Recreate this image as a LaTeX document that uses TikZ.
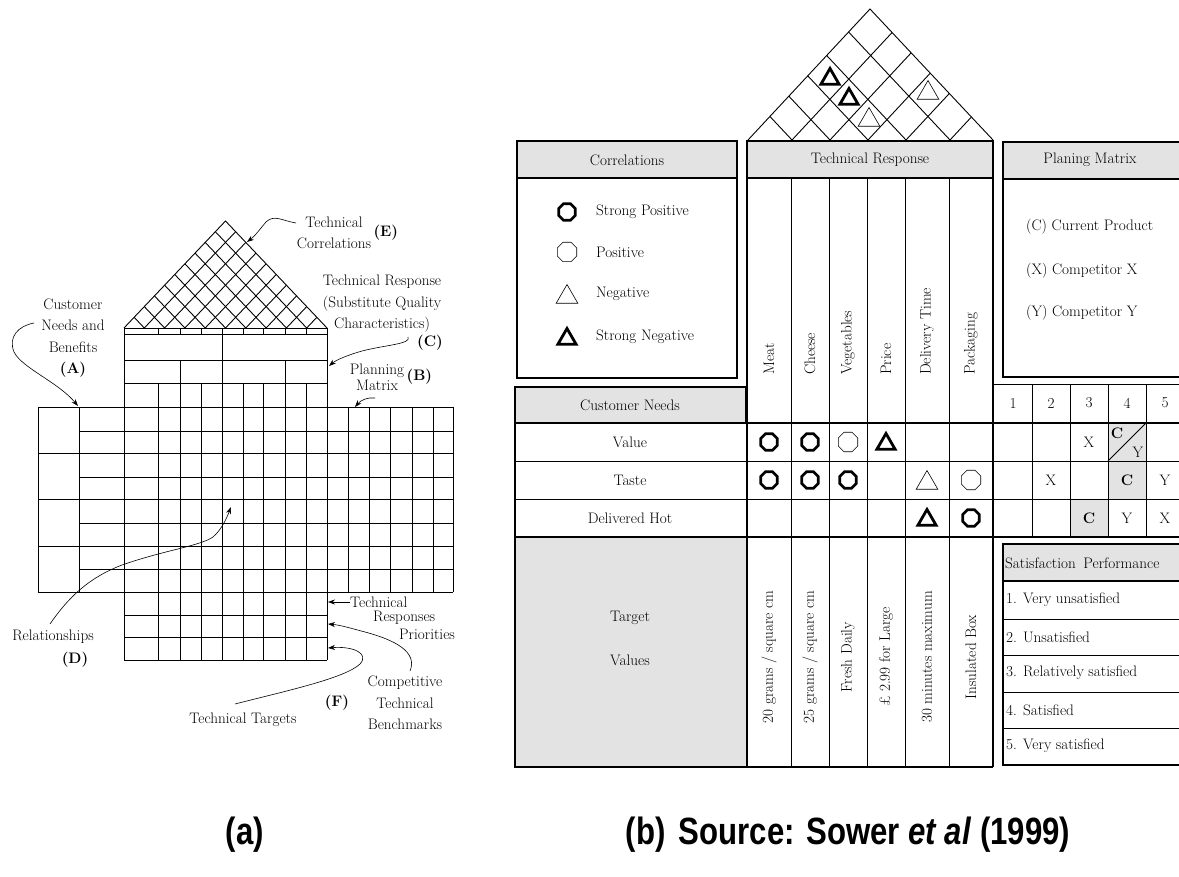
\documentclass[tikz,border=0pt]{standalone}
\usepackage{fontspec}
\newfontfamily\capfont[FakeStretch=0.82]{Liberation Sans}
\usetikzlibrary{arrows.meta,positioning,shapes.geometric}

\begin{document}
\begin{tikzpicture}[x=1pt,y=-1pt,font=\fontsize{15.2}{21.5}\selectfont,
  ln/.style={line width=0.9pt},
  bx/.style={line width=1.3pt},
  tk/.style={line width=2.6pt},
  hd/.style={fill=black!11},
  arr/.style={line width=0.6pt,-{Stealth[length=7pt,width=5pt]}},
  lbl/.style={align=center,inner sep=1pt},
  tag/.style={font=\fontsize{15.2}{21.5}\selectfont\bfseries,inner sep=1pt},
  vlab/.style={rotate=90,inner sep=0pt},
  cspos/.style={regular polygon,regular polygon sides=8,draw,line width=2.8pt,minimum size=18pt,inner sep=0pt},
  cpos/.style={regular polygon,regular polygon sides=8,draw,line width=0.6pt,minimum size=21pt,inner sep=0pt},
  cneg/.style={regular polygon,regular polygon sides=3,draw,line width=0.6pt,minimum size=25pt,inner sep=0pt,yshift=-3pt},
  csneg/.style={regular polygon,regular polygon sides=3,draw,line width=2.8pt,minimum size=21pt,inner sep=0pt,yshift=-2pt}]
  \path[use as bounding box,clip] (0,0) rectangle (1179,877);

  \begin{scope}
    \clip (124,328) -- (225.5,221) -- (327,328) -- cycle;
    \foreach \k in {1,...,9}
      \draw[ln] ({124+20.3*\k},328) -- ++(203,-214) ({124+20.3*\k},328) -- ++(-203,-214);
  \end{scope}
  \draw[ln] (124,328) -- (225.5,221) -- (327,328);
  \foreach \y in {328,334,360,383} \draw[ln] (124,\y) -- (327,\y);
  \foreach \y in {407,453,499,546,592} \draw[ln] (38,\y) -- (453,\y);
  \foreach \y in {431,477,523,569} \draw[ln] (79,\y) -- (453,\y);
  \foreach \y in {615,637,660} \draw[ln] (124,\y) -- (327,\y);
  \foreach \x in {158,180,201,222,243,263,285,306}
    \draw[ln] (\x,328) -- (\x,334) (\x,383) -- (\x,660);
  \draw[ln] (222,334) -- (222,383) (180,360) -- (180,383) (285,360) -- (285,383);
  \draw[ln] (124,328) -- (124,660) (327,328) -- (327,660);
  \foreach \x in {38,79,348,369,390,412,433,453} \draw[ln] (\x,407) -- (\x,592);

  \node[lbl] (tcor) at (334,233) {Technical\\Correlations};
  \node[tag,right=0pt of tcor] (tagE) {(E)};
  \coordinate (eS) at (296,223);
  \coordinate (eT) at (247,242);
  \draw[arr] (eS) .. controls (283,221) and (274,214) .. (266,222) .. controls (260,229) and (255,236) .. (eT);
  \node[lbl] (tresp) at (382,304) {Technical Response\\(Substitute Quality\\Characteristics)};
  \node[tag] (tagC) at (430,343) {(C)};
  \coordinate (cS) at (408,337);
  \coordinate (cT) at (329,366);
  \draw[arr] (cS) .. controls (412,344) and (385,345) .. (362,351) .. controls (348,355) and (336,360) .. (cT);
  \node[lbl,font=\fontsize{15.2}{16}\selectfont] (pmat) at (377,377) {Planning\\Matrix};
  \node[tag,right=0pt of pmat] (tagB) {(B)};
  \coordinate (bS) at (375,398);
  \coordinate (bT) at (355,407);
  \draw[arr] (bS) .. controls (368,397) and (361,400) .. (bT);
  \node[lbl] (cneed) at (73,338) {Customer\\Needs and\\Benefits\\\textbf{(A)}};
  \coordinate (aS) at (34,323);
  \coordinate (aT) at (78,406);
  \draw[arr] (aS) .. controls (18,326) and (8,337) .. (14,352) .. controls (22,368) and (58,382) .. (aT);
  \node[lbl] (rel) at (53,637) {Relationships};
  \node[tag] (tagD) at (75,660) {(D)};
  \coordinate (dS) at (50,624);
  \coordinate (dT) at (231,507);
  \draw[arr] (dS) .. controls (68,598) and (88,578) .. (122,565) .. controls (165,550) and (200,546) .. (213,537) .. controls (221,530) and (226,520) .. (dT);
  \node[anchor=west,inner sep=0pt] (tpri1) at (350,602) {Technical};
  \node[anchor=west,inner sep=0pt] (tpri2) at (373,618) {Responses};
  \node[anchor=west,inner sep=0pt] (tpri3) at (399,634) {Priorities};
  \coordinate (pT) at (328,602);
  \draw[arr] (tpri1.west) -- (pT);
  \node[lbl] (bench) at (405,703) {Competitive\\Technical\\Benchmarks};
  \node[tag] (tagF) at (337,703) {(F)};
  \coordinate (fS) at (410,671);
  \coordinate (fT) at (328,624);
  \draw[arr] (fS) .. controls (418,652) and (395,640) .. (365,632) .. controls (350,628) and (340,625) .. (fT);
  \node[lbl] (ttar) at (243,720) {Technical Targets};
  \coordinate (tS) at (235,704);
  \coordinate (tT) at (328,648);
  \draw[arr] (tS) .. controls (290,690) and (345,678) .. (360,664) .. controls (370,653) and (352,646) .. (tT);

  \begin{scope}
    \clip (748,140) -- (870,9) -- (993,140) -- cycle;
    \foreach \x in {792,830,868,906,950}
      \draw[ln] (\x,140) -- ++(244,-262) (\x,140) -- ++(-246,-262);
  \end{scope}
  \draw[ln] (748,140) -- (870,9) -- (993,140);
  \node[csneg] (rf1) at (830,77) {};
  \node[csneg] (rf2) at (849,97) {};
  \node[cneg] (rf3) at (869,117) {};
  \node[cneg] (rf4) at (928,90) {};

  \draw[bx,hd] (517,141) rectangle (737,178);
  \draw[bx] (517,178) rectangle (737,378);
  \node (corr) at (627,160) {Correlations};
  \node[cspos] (lg1) at (567,212) {};
  \node[cpos] (lg2) at (567,252) {};
  \node[cneg] (lg3) at (567,294) {};
  \node[csneg] (lg4) at (567,337) {};
  \foreach \t/\y [count=\i] in {Strong Positive/212,Positive/252,Negative/294,Strong Negative/337}
    \node[anchor=west,inner sep=0pt] (lgt\i) at (596,\y) {\t};

  \draw[bx,hd] (747,141) rectangle (993,178);
  \node (trh) at (870,160) {Technical Response};
  \foreach \x in {791,829,867,905,949} \draw[ln] (\x,178) -- (\x,767);
  \foreach \t/\x [count=\i] in {Meat/769,Cheese/810,Vegetables/848,Price/886,Delivery Time/927,Packaging/971}
    \node[vlab,anchor=west] (col\i) at (\x,375) {\t};

  \draw[bx,hd] (515,387) rectangle (746,423);
  \node (cnh) at (630,405) {Customer Needs};

  \draw[bx,hd] (1003,142) rectangle (1186,179);
  \draw[bx] (1003,179) rectangle (1186,377);
  \node (pmh) at (1090,160) {Planing Matrix};
  \foreach \t/\y [count=\i] in {{(C) Current Product}/227,{(X) Competitor X}/271,{(Y) Competitor Y}/313}
    \node[anchor=west,inner sep=0pt] (pm\i) at (1026,\y) {\t};

  \fill[hd] (1108,423) rectangle (1146,461);
  \fill[hd] (1108,461) rectangle (1146,499);
  \fill[hd] (1070,499) rectangle (1108,537);
  \draw[ln] (993,384) -- (1186,384);
  \foreach \x in {1032,1070,1108,1146} \draw[ln] (\x,384) -- (\x,537);
  \foreach \n in {1,...,5} \node (num\n) at ({975+38*\n},403) {\n};
  \foreach \y in {461,499} \draw[ln] (515,\y) -- (1186,\y);
  \foreach \t/\y [count=\i] in {Value/442,Taste/480,Delivered Hot/518}
    \node (need\i) at (630,\y) {\t};

  \node[cspos] (m11) at (769,442) {};
  \node[cspos] (m12) at (810,442) {};
  \node[cpos] (m13) at (848,442) {};
  \node[csneg] (m14) at (886,442) {};
  \node[cspos] (m21) at (769,480) {};
  \node[cspos] (m22) at (810,480) {};
  \node[cspos] (m23) at (848,480) {};
  \node[cneg] (m25) at (927,480) {};
  \node[cpos] (m26) at (971,480) {};
  \node[csneg] (m35) at (927,518) {};
  \node[cspos] (m36) at (971,518) {};

  \node (p13) at (1089,442) {X};
  \draw[ln] (1108,461) -- (1146,423);
  \node[tag,inner sep=0pt] (p14c) at (1117,433) {C};
  \node[inner sep=0pt] (p14y) at (1138,452) {Y};
  \node (p22) at (1051,480) {X};
  \node[tag] (p24) at (1127,480) {C};
  \node (p25) at (1165,480) {Y};
  \node[tag] (p33) at (1089,518) {C};
  \node (p34) at (1127,518) {Y};
  \node (p35) at (1165,518) {X};

  \draw[bx,hd] (515,537) rectangle (747,767);
  \node (tgv1) at (630,618) {Target};
  \node (tgv2) at (630,660) {Values};
  \foreach \t/\x [count=\i] in {{20 grams / square cm}/769,{25 grams / square cm}/810,Fresh Daily/848,{£ 2.99 for Large}/886,30 minutes maximum/927,Insulated Box/971}
    \node[vlab] (tv\i) at (\x,657) {\t};

  \draw[tk] (515,423) -- (1186,423) (515,537) -- (1186,537) (515,423) -- (515,537);
  \draw[tk] (747,141) -- (747,767) (993,141) -- (993,767) (747,767) -- (993,767);

  \draw[bx,hd] (1003,544) rectangle (1186,581);
  \draw[bx] (1003,581) rectangle (1186,765);
  \foreach \y in {619,655,692,728} \draw[ln] (1003,\y) -- (1186,\y);
  \node[anchor=west,inner sep=0pt] (sp0) at (1005,563) {Satisfaction\hspace{0.5em}Performance};
  \foreach \t/\y [count=\i] in {1. Very unsatisfied/600,2. Unsatisfied/637,3. Relatively satisfied/673,4. Satisfied/710,5. Very satisfied/746}
    \node[anchor=west,inner sep=0pt] (sp\i) at (1006,\y) {\t};

  \node[font=\capfont\bfseries\fontsize{38}{40}\selectfont] (capa) at (245,835) {(a)};
  \node[font=\capfont\bfseries\fontsize{38}{40}\selectfont] (capb) at (848,835) {(b)\hspace{0.35em}Source: Sower \textit{et al} (1999)};
\end{tikzpicture}
\end{document}
